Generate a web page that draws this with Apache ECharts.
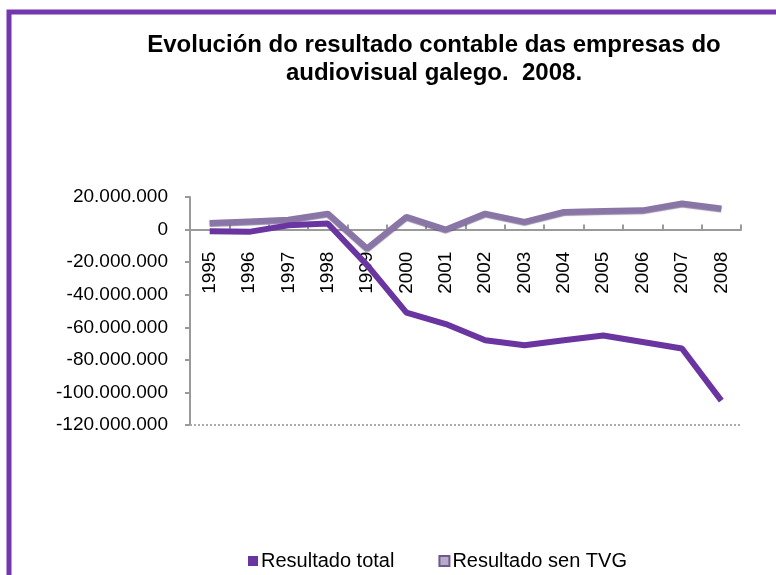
<!DOCTYPE html>
<html>
<head>
<meta charset="utf-8">
<script src="https://cdn.jsdelivr.net/npm/echarts@6/dist/echarts.min.js"></script>
<style>
  html, body { margin: 0; padding: 0; background: #fff; }
  #chart { width: 776px; height: 575px; }
</style>
</head>
<body>
<div id="chart"></div>
<script>
// anos
const years = ['1995', '1996', '1997', '1998', '1999', '2000', '2001',
  '2002', '2003', '2004', '2005', '2006', '2007', '2008'];

// resultado total (euros)
const resultadoTotal = [-1000000, -1400000, 2600000, 3700000, -21800000, -51000000, -58000000,
  -68000000, -71000000, -68000000, -65000000, -69000000, -73000000, -105000000];

// resultado sen TVG
const resultadoSenTVG = [4000000, 5000000, 6000000, 9800000, -11600000, 7800000, 0,
  9800000, 4700000, 10800000, 11400000, 11800000, 16000000, 13000000];

// eixo Y
const yMin = -120000000;
const yMax = 20000000;
const yStep = 20000000;

// formato con puntos de miles
const fmt = v => {
  const s = Math.abs(v).toString().replace(/\B(?=(\d{3})+(?!\d))/g, '.');
  return (v < 0 ? '-' : '') + s;
};

const gridTop = 197;
const gridBottom = 150;
const plotH = 575 - gridTop - gridBottom;
// o eixo X vai na liña do cero
const zeroOffset = -plotH * (0 - yMin) / (yMax - yMin);

const chart = echarts.init(document.getElementById('chart'));

chart.setOption({
  animation: false,
  textStyle: { fontFamily: 'Liberation Sans, Arial, sans-serif' },
  title: {
    text: 'Evolución do resultado contable das empresas do\naudiovisual galego.  2008.',
    left: 429,
    top: 26,
    textAlign: 'center',
    textStyle: {
      fontSize: 24,
      fontWeight: 'bold',
      color: '#000',
      lineHeight: 28
    }
  },
  legend: {
    left: 243,
    top: 546,
    itemWidth: 10,
    itemHeight: 10,
    itemGap: 44,
    icon: 'rect',
    textStyle: { fontSize: 20, color: '#000', padding: [0, 0, 0, -2] },
    data: ['Resultado total', 'Resultado sen TVG']
  },
  grid: {
    left: 190,
    right: 35,
    top: gridTop,
    bottom: gridBottom,
    containLabel: false
  },
  xAxis: {
    type: 'category',
    data: years,
    boundaryGap: true,
    position: 'bottom',
    offset: zeroOffset,
    axisLine: { onZero: false, lineStyle: { color: '#9a9a9a', width: 2 } },
    axisTick: { show: true, inside: true, length: 5, lineStyle: { color: '#9a9a9a', width: 2 } },
    axisLabel: {
      rotate: 90,
      fontSize: 19,
      color: '#000',
      margin: 22,
      interval: 0
    }
  },
  yAxis: {
    type: 'value',
    min: yMin,
    max: yMax,
    interval: yStep,
    axisLine: { show: true, lineStyle: { color: '#9a9a9a', width: 2 } },
    axisTick: { show: true, length: 5, lineStyle: { color: '#9a9a9a', width: 2 } },
    splitLine: { show: false },
    axisLabel: {
      fontSize: 19,
      color: '#000',
      margin: 22,
      formatter: fmt
    }
  },
  series: [
    {
      name: 'Resultado total',
      type: 'line',
      data: resultadoTotal,
      symbol: 'none',
      smooth: false,
      itemStyle: { color: '#6a35a0' },
      lineStyle: { color: '#6a35a0', width: 6 },
      z: 3,
      markLine: {
        silent: true,
        symbol: 'none',
        label: { show: false },
        lineStyle: { color: '#aaa', width: 2, type: 'dotted' },
        data: [{ yAxis: yMin }]
      }
    },
    {
      name: 'Resultado sen TVG',
      type: 'line',
      data: resultadoSenTVG,
      symbol: 'none',
      smooth: false,
      itemStyle: { color: '#b9aacd', borderColor: '#6e5a8c', borderWidth: 1.5 },
      lineStyle: {
        color: '#8a76a6',
        width: 6,
        shadowColor: 'rgba(80,60,110,0.6)',
        shadowBlur: 1,
        shadowOffsetY: 1
      },
      z: 2
    }
  ],
  graphic: [
    {
      type: 'polyline',
      shape: { points: [[9, 575], [9, 12], [776, 12]] },
      style: { stroke: '#7537ad', lineWidth: 5, fill: null }
    }
  ]
});
</script>
</body>
</html>
